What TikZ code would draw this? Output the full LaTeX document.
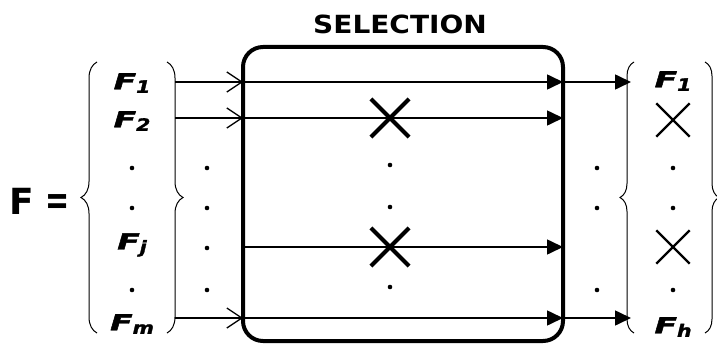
\documentclass[tikz,border=0pt]{standalone}
\usepackage{fontspec}
\usetikzlibrary{arrows.meta,decorations.pathreplacing,shapes.misc}
\newfontfamily\labfont{DejaVu Sans}
\newcommand\flab[1]{{\labfont\bfseries\itshape\addfontfeature{FakeBold=1.6}\scalebox{1.5}[1]{\fontsize{22}{22}\selectfont F}\raisebox{-3.5pt}{\scalebox{1.2}[1]{\fontsize{17}{17}\selectfont #1}}}}
\tikzset{
  flow/.style={line width=1.6pt},
  inarrow/.style={flow,-{Straight Barb[length=15pt,width=20pt,line width=1.3pt]}},
  filarrow/.style={flow,-{Triangle[length=16pt,width=15pt]}},
  bracestyle/.style={line width=1pt,decorate,decoration={brace,amplitude=#1}},
  lab/.style={inner sep=0pt},
  dotmark/.style={circle,fill=black,inner sep=0pt,minimum size=4.6pt},
  bigx/.style={cross out,draw,line width=4.2pt,minimum size=34pt,inner sep=0pt},
  smallx/.style={cross out,draw,line width=2.4pt,minimum size=31pt,inner sep=0pt}
}
\begin{document}
\begin{tikzpicture}[x=1pt,y=-1pt]
\useasboundingbox[fill=white] (0,0) rectangle (717,345);
% title
\node[lab,font={\labfont\bfseries\fontsize{25}{25}\selectfont},xscale=1.12] (title) at (400,24) {SELECTION};
% box
\node[draw,line width=4pt,rounded corners=20pt,minimum width=320pt,minimum height=294pt,inner sep=0pt,outer sep=0pt] (box) at (403,194) {};
% F =
\node[lab,font={\labfont\bfseries\fontsize{36}{36}\selectfont}] (F) at (40,201) {F\kern-1pt\ \scalebox{0.8}[1.15]{=}};
% left braces
\draw[bracestyle=16pt] (97,333) -- (97,62);
\draw[bracestyle=16pt] (167,62) -- (167,333);
% left labels
\node[lab] (l1) at (132,83) {\flab{1}};
\node[lab] (l2) at (132,121) {\flab{2}};
\node[dotmark] (ld1) at (132,168) {};
\node[dotmark] (ld2) at (132,208) {};
\node[lab] (lj) at (132,245) {\flab{j}};
\node[dotmark] (ld3) at (132,290) {};
\node[lab] (lm) at (132,324) {\flab{m}};
% left dot column
\node[dotmark] (c1) at (207,168) {};
\node[dotmark] (c2) at (207,208) {};
\node[dotmark] (c3) at (207,248) {};
\node[dotmark] (c4) at (207,290) {};
% inside box
\node[bigx] (x1) at (390,118) {};
\node[bigx] (x2) at (390,247) {};
\node[dotmark] (b1) at (390,165) {};
\node[dotmark] (b2) at (390,207) {};
\node[dotmark] (b3) at (390,287) {};
% right dot column
\node[dotmark] (d1) at (597,168) {};
\node[dotmark] (d2) at (597,208) {};
\node[dotmark] (d3) at (597,290) {};
% right braces
\draw[bracestyle=14pt] (634,333) -- (634,62);
\draw[bracestyle=14pt] (705,62) -- (705,333);
% right labels
\node[lab] (r1) at (673,81) {\flab{1}};
\node[smallx] (rx1) at (673,120) {};
\node[dotmark] (rd1) at (673,168) {};
\node[dotmark] (rd2) at (673,208) {};
\node[smallx] (rx2) at (673,247) {};
\node[dotmark] (rd3) at (673,290) {};
\node[lab] (rh) at (673,327) {\flab{h}};
% connector ends
\coordinate (in1) at (175,82);
\coordinate (in2) at (175,118);
\coordinate (inj) at (243,247);
\coordinate (inm) at (175,318);
\coordinate (out1) at (631,82);
\coordinate (outm) at (631,318);
% input arrows
\draw[inarrow] (in1) -- (box.west |- in1);
\draw[inarrow] (in2) -- (box.west |- in2);
\draw[inarrow] (inm) -- (box.west |- inm);
% through lines
\draw[filarrow] (box.west |- in1) -- (box.east |- in1);
\draw[filarrow] (box.west |- in2) -- (box.east |- in2);
\draw[filarrow] (inj) -- (box.east |- inj);
\draw[filarrow] (box.west |- inm) -- (box.east |- inm);
% outputs
\draw[filarrow] (box.east |- out1) -- (out1);
\draw[filarrow] (box.east |- outm) -- (outm);
\end{tikzpicture}
\end{document}
